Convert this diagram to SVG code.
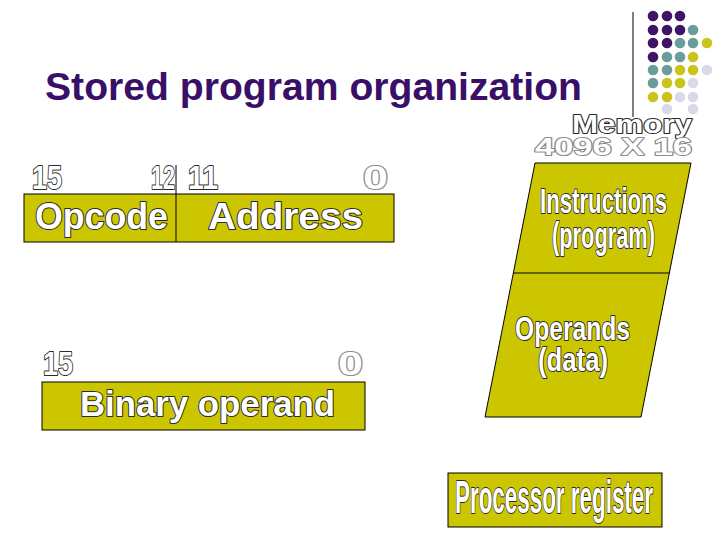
<svg xmlns="http://www.w3.org/2000/svg" width="728" height="546" viewBox="0 0 728 546">
<style>
.box{fill:#CCC600;stroke:#000;stroke-width:1}
.ln{stroke:#000;stroke-width:1;fill:none}
.wa{font-family:"Liberation Sans",Arial,sans-serif;font-weight:bold;fill:#fff;stroke:#2a2a2a;stroke-width:2;paint-order:stroke;stroke-linejoin:round}
.wg{font-family:"Liberation Sans",Arial,sans-serif;font-weight:bold;fill:#fff;stroke:#8a8a8a;stroke-width:2;paint-order:stroke;stroke-linejoin:round}
.title{font-family:"Liberation Sans",Arial,sans-serif;font-weight:bold;fill:#3A0F68;font-size:39px}
.p{fill:#3F1466}.t{fill:#6A9C9C}.y{fill:#C9C31C}.l{fill:#D9D9EC}
</style>
<rect width="728" height="546" fill="#fff"/>
<g id="decor">
<line class="ln" x1="633" y1="12" x2="633" y2="117"/>
<circle class="p" cx="653" cy="16" r="5.3"/><circle class="p" cx="667" cy="16" r="5.3"/><circle class="p" cx="680" cy="16" r="5.3"/>
<circle class="p" cx="653" cy="30" r="5.3"/><circle class="p" cx="667" cy="30" r="5.3"/><circle class="p" cx="680" cy="30" r="5.3"/><circle class="t" cx="693" cy="30" r="5.3"/>
<circle class="p" cx="653" cy="43" r="5.3"/><circle class="p" cx="667" cy="43" r="5.3"/><circle class="t" cx="680" cy="43" r="5.3"/><circle class="t" cx="693" cy="43" r="5.3"/><circle class="y" cx="707" cy="43" r="5.3"/>
<circle class="p" cx="653" cy="57" r="5.3"/><circle class="t" cx="667" cy="57" r="5.3"/><circle class="t" cx="680" cy="57" r="5.3"/><circle class="y" cx="693" cy="57" r="5.3"/>
<circle class="t" cx="653" cy="70" r="5.3"/><circle class="t" cx="667" cy="70" r="5.3"/><circle class="y" cx="680" cy="70" r="5.3"/><circle class="y" cx="693" cy="70" r="5.3"/><circle class="l" cx="707" cy="70" r="5.3"/>
<circle class="t" cx="653" cy="83" r="5.3"/><circle class="y" cx="667" cy="83" r="5.3"/><circle class="y" cx="680" cy="83" r="5.3"/><circle class="l" cx="693" cy="83" r="5.3"/>
<circle class="y" cx="653" cy="97" r="5.3"/><circle class="y" cx="667" cy="97" r="5.3"/><circle class="l" cx="680" cy="97" r="5.3"/><circle class="l" cx="693" cy="97" r="5.3"/>
<circle class="l" cx="667" cy="109" r="5.3"/><circle class="l" cx="693" cy="109" r="5.3"/>
</g>
<text class="title" x="45" y="100" textLength="537" lengthAdjust="spacingAndGlyphs">Stored program organization</text>
<g id="instruction-format">
<rect class="box" x="24" y="194" width="370" height="48"/>
<line class="ln" x1="176" y1="165" x2="176" y2="242"/>
<text class="wa" x="32" y="189" font-size="33" textLength="30" lengthAdjust="spacingAndGlyphs">15</text>
<text class="wa" x="151" y="189" font-size="33" textLength="24" lengthAdjust="spacingAndGlyphs">12</text>
<text class="wa" x="188" y="189" font-size="33" textLength="30" lengthAdjust="spacingAndGlyphs">11</text>
<text class="wg" x="363" y="189" font-size="33" textLength="25" lengthAdjust="spacingAndGlyphs">0</text>
<text class="wa" x="35" y="229" font-size="37" textLength="133" lengthAdjust="spacingAndGlyphs">Opcode</text>
<text class="wa" x="208" y="229" font-size="37" textLength="155" lengthAdjust="spacingAndGlyphs">Address</text>
</g>
<g id="binary-operand">
<rect class="box" x="42" y="382" width="323" height="48"/>
<text class="wa" x="43" y="375" font-size="33" textLength="30" lengthAdjust="spacingAndGlyphs">15</text>
<text class="wg" x="338" y="375" font-size="33" textLength="25" lengthAdjust="spacingAndGlyphs">0</text>
<text class="wa" x="80" y="416" font-size="35" textLength="255" lengthAdjust="spacingAndGlyphs">Binary operand</text>
</g>
<g id="memory">
<polygon class="box" points="535,163 691,163 641,417 485,417"/>
<line class="ln" x1="513" y1="273" x2="669" y2="273"/>
<text class="wa" x="572" y="133" font-size="25" textLength="120" lengthAdjust="spacingAndGlyphs">Memory</text>
<text class="wg" x="535" y="155" font-size="24" textLength="157" lengthAdjust="spacingAndGlyphs">4096 X 16</text>
<text class="wa" x="540" y="213" font-size="35" textLength="127" lengthAdjust="spacingAndGlyphs">Instructions</text>
<text class="wa" x="552" y="248" font-size="36" textLength="103" lengthAdjust="spacingAndGlyphs">(program)</text>
<text class="wa" x="515" y="340" font-size="33" textLength="115" lengthAdjust="spacingAndGlyphs">Operands</text>
<text class="wa" x="538" y="371" font-size="34" textLength="70" lengthAdjust="spacingAndGlyphs">(data)</text>
</g>
<g id="processor-register">
<rect class="box" x="448" y="473" width="214" height="54"/>
<text class="wa" x="455" y="513" font-size="46" textLength="198" lengthAdjust="spacingAndGlyphs">Processor register</text>
</g>
</svg>
